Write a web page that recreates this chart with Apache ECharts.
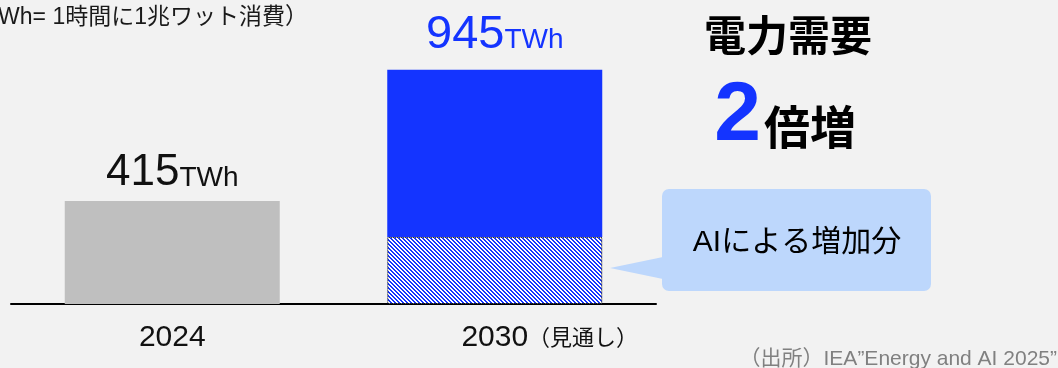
<!DOCTYPE html>
<html>
<head>
<meta charset="utf-8">
<script src="https://cdn.jsdelivr.net/npm/echarts@6/dist/echarts.min.js"></script>
<style>
	html,body{margin:0;padding:0;background:#f2f2f2;}
	#app{width:1058px;height:368px;}
</style>
</head>
<body>
<div id="app"></div>
<script>
	var categories = ['2024', '2030'];
	var catSuffix = ['', '（見通し）'];
	var aiPart = ['-', 270];		//AIによる増加分
	var otherPart = [415, 675];
	var totals = [415, 945];

	var FONT = '"Liberation Sans", "Noto Sans CJK JP", sans-serif';
	var BLUE = '#1434ff';

	// 斜線ハッチ
	function hatch(){
		var c = document.createElement('canvas');
		c.width = 4; c.height = 4;
		var ctx = c.getContext('2d');
		ctx.fillStyle = '#ffffff';
		ctx.fillRect(0,0,4,4);
		ctx.fillStyle = BLUE;
		for(var y=0;y<4;y++){
			for(var x=0;x<4;x++){
				if(((x - y) % 4 + 4) % 4 < 2) ctx.fillRect(x,y,1,1);
			}
		}
		return c;
	}

	var chart = echarts.init(document.getElementById('app'));
	chart.setOption({
		backgroundColor: '#f2f2f2',
		animation: false,
		grid: { left: 11, right: 402, top: 56, bottom: 64 },
		xAxis: {
			type: 'category',
			data: categories,
			axisLine: { lineStyle: { color: '#000', width: 2 } },
			axisTick: { show: false },
			axisLabel: {
				margin: 19,
				formatter: function(v, i){
					if(catSuffix[i]) return '{pad|}{y|' + v + '}{s|' + catSuffix[i] + '}';
					return '{y|' + v + '}';
				},
				rich: {
					y: { fontSize: 30, color: '#111', fontFamily: FONT, verticalAlign: 'bottom' },
					s: { fontSize: 22, color: '#111', fontFamily: FONT, verticalAlign: 'bottom', padding: [0,0,3,0] },
					pad: { width: 110 },
				}
			}
		},
		yAxis: { type: 'value', min: 0, max: 1000, show: false },
		series: [
			{
				name: 'AI',
				type: 'bar',
				stack: 'total',
				barWidth: 215,
				data: aiPart,
				itemStyle: {
					color: { image: hatch(), repeat: 'repeat' },
					borderColor: '#000',
					borderWidth: 1,
					borderType: 'dotted',
				}
			},
			{
				name: 'other',
				type: 'bar',
				stack: 'total',
				barWidth: 215,
				data: otherPart.map(function(v, i){
					var c = i === 0 ? '#111' : BLUE;
					return {
						value: v,
						itemStyle: { color: i === 0 ? '#bfbfbf' : BLUE },
						label: {
							distance: i === 0 ? 6 : 11,
							rich: {
								n: { fontSize: i === 0 ? 44 : 47, color: c, fontFamily: FONT, verticalAlign: 'bottom' },
								u: { fontSize: 28, color: c, fontFamily: FONT, verticalAlign: 'bottom', padding: [0,0,i === 0 ? 3 : 4,0] },
							}
						}
					};
				}),
				label: {
					show: true,
					position: 'top',
					formatter: function(p){
						return '{n|' + totals[p.dataIndex] + '}{u|TWh}';
					}
				}
			}
		],
		graphic: [
			{
				type: 'text', x: 308, y: 18,
				style: { text: '（1TWh= 1時間に1兆ワット消費）', align: 'right', verticalAlign: 'middle',
					fill: '#1a1a1a', font: '23px ' + FONT }
			},
			{
				type: 'text', x: 788, y: 39,
				style: { text: '電力需要', align: 'center', verticalAlign: 'middle',
					fill: '#000', font: 'bold 42px ' + FONT }
			},
			{
				type: 'text', x: 761, y: 117,
				style: { text: '2', align: 'right', verticalAlign: 'middle',
					fill: BLUE, font: 'bold 84px ' + FONT }
			},
			{
				type: 'text', x: 764, y: 131,
				style: { text: '倍増', align: 'left', verticalAlign: 'middle',
					fill: '#000', font: 'bold 46px ' + FONT }
			},
			{
				type: 'polygon',
				shape: { points: [[663,257],[610,268],[663,279]] },
				style: { fill: '#bdd7fc' }
			},
			{
				type: 'rect',
				shape: { x: 662, y: 189, width: 269, height: 102, r: 7 },
				style: { fill: '#bdd7fc' }
			},
			{
				type: 'text', x: 797, y: 243,
				style: { text: 'AIによる増加分', align: 'center', verticalAlign: 'middle',
					fill: '#000', font: '30px ' + FONT }
			},
			{
				type: 'text', x: 1057, y: 359,
				style: { text: '（出所）IEA”Energy and AI 2025”', align: 'right', verticalAlign: 'middle',
					fill: '#808080', font: '21px ' + FONT }
			}
		]
	});
</script>
</body>
</html>
